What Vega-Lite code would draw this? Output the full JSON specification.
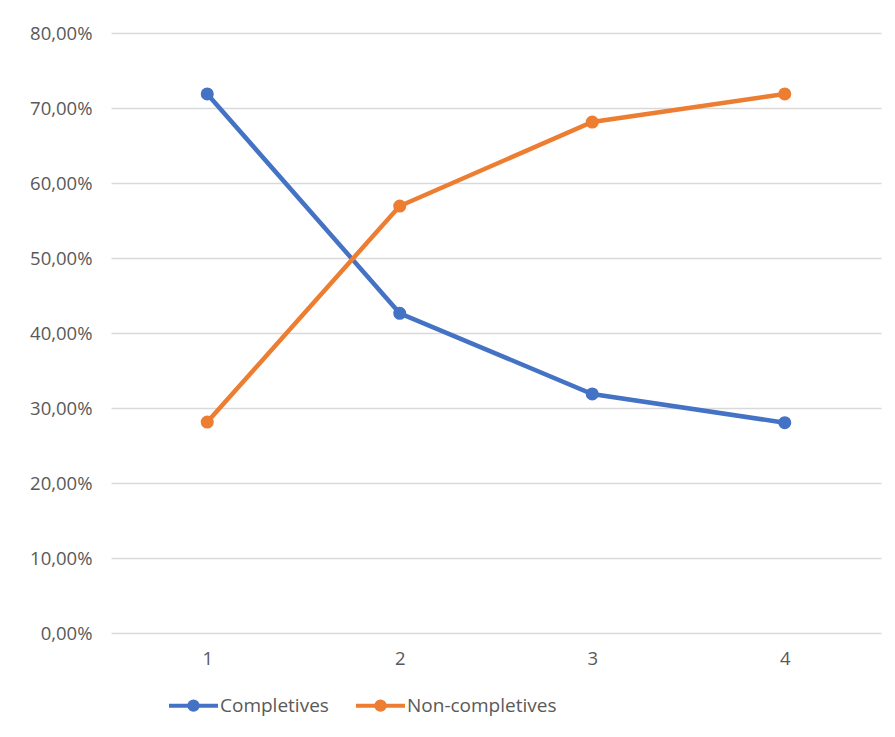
{
  "$schema": "https://vega.github.io/schema/vega-lite/v6.json",
  "autosize": "none",
  "width": 770,
  "height": 600,
  "padding": {"left": 111, "top": 33, "right": 14, "bottom": 104},
  "background": "white",
  "config": {
    "view": {"stroke": null},
    "font": "Open Sans"
  },
  "data": {
    "values": [
      {"x": "1", "series": "Completives", "value": 0.7187},
      {"x": "2", "series": "Completives", "value": 0.4263},
      {"x": "3", "series": "Completives", "value": 0.3187},
      {"x": "4", "series": "Completives", "value": 0.2804},
      {"x": "1", "series": "Non-completives", "value": 0.2813},
      {"x": "2", "series": "Non-completives", "value": 0.5693},
      {"x": "3", "series": "Non-completives", "value": 0.6813},
      {"x": "4", "series": "Non-completives", "value": 0.7187}
    ]
  },
  "encoding": {
    "x": {
      "field": "x",
      "type": "ordinal",
      "scale": {"type": "point", "padding": 0.5},
      "axis": {"title": null, "labelAngle": 0, "domain": false, "ticks": false, "labelPadding": 16, "grid": false, "labelFontSize": 18.5, "labelColor": "#595959", "labelFont": "Open Sans"}
    },
    "y": {
      "field": "value",
      "type": "quantitative",
      "scale": {"domain": [0, 0.8], "nice": false},
      "axis": {
        "title": null,
        "values": [0, 0.1, 0.2, 0.3, 0.4, 0.5, 0.6, 0.7, 0.8],
        "labelExpr": "replace(format(datum.value, '.2%'), '.', ',')",
        "domain": false,
        "ticks": false,
        "labelPadding": 19,
        "labelFontSize": 18.5,
        "labelColor": "#595959",
        "labelFont": "Open Sans",
        "grid": true,
        "gridColor": "#d9d9d9",
        "gridWidth": 1.3
      }
    },
    "color": {
      "field": "series",
      "type": "nominal",
      "scale": {"domain": ["Completives", "Non-completives"], "range": ["#4472C4", "#ED7D31"]},
      "legend": {
        "title": null,
        "orient": "none",
        "direction": "horizontal",
        "legendX": 56,
        "legendY": 646,
        "symbolType": "M-1,0L1,0M-0.17,0A0.17,0.17 0 1,1 0.17,0A0.17,0.17 0 1,1 -0.17,0Z",
        "symbolSize": 2400,
        "symbolStrokeWidth": 4,
        "labelFontSize": 19,
        "labelColor": "#595959",
        "labelFont": "Open Sans",
        "labelOffset": 0,
        "columnPadding": 19
      }
    }
  },
  "layer": [
    {"mark": {"type": "line", "strokeWidth": 4.5}},
    {"mark": {"type": "point", "filled": true, "size": 170, "opacity": 1}}
  ]
}
